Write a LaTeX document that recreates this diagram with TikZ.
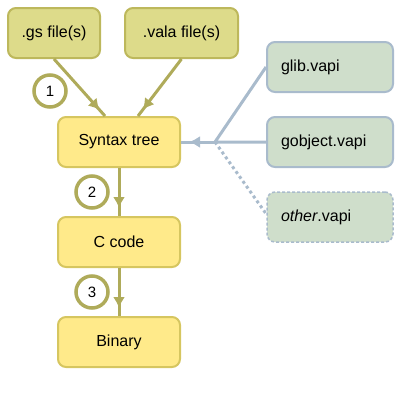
\documentclass[tikz,border=0pt]{standalone}
\usepackage{fontspec}
\setmainfont{Liberation Sans}
\usetikzlibrary{arrows.meta}
\usetikzlibrary{positioning}
\usetikzlibrary{decorations.markings}
\definecolor{srcfill}{HTML}{DDDB8A}
\definecolor{srcline}{HTML}{BDB85C}
\definecolor{stagefill}{HTML}{FFEA8A}
\definecolor{stageline}{HTML}{D6C660}
\definecolor{vapifill}{HTML}{CFDECB}
\definecolor{vapiline}{HTML}{A9BBCC}
\definecolor{flowcol}{HTML}{AFAB5A}
\definecolor{linkcol}{HTML}{A9BBCC}
\tikzstyle{source} = [rectangle, rounded corners=8pt, minimum height=50pt, text centered, draw=srcline, fill=srcfill, line width=2pt]
\tikzstyle{stage} = [rectangle, rounded corners=8pt, minimum width=122pt, minimum height=50pt, text centered, draw=stageline, fill=stagefill, line width=2pt]
\tikzstyle{vapi} = [rectangle, rounded corners=8pt, text width=98pt, inner xsep=14pt, minimum height=50pt, align=left, draw=vapiline, fill=vapifill, line width=2pt]
\tikzstyle{stepnum} = [circle, minimum size=32pt, inner sep=0pt, draw=flowcol, line width=3.5pt, fill=white, font=\fontsize{15}{18}\selectfont]
\tikzstyle{flow} = [line width=3pt, draw=flowcol, postaction={decorate, decoration={markings, mark=at position -8pt with {\arrow{Latex[length=11pt,width=12pt,color=flowcol]}}}}]
\tikzstyle{link} = [line width=3pt, draw=linkcol]
\tikzstyle{linkarrow} = [line width=3pt, draw=linkcol, postaction={decorate, decoration={markings, mark=at position -8pt with {\arrow{Latex[length=11pt,width=12pt,color=linkcol]}}}}]

\begin{document}
\begin{tikzpicture}[node distance=100pt, font=\fontsize{16}{19}\selectfont]

    \useasboundingbox (0,0) rectangle (418pt,-418pt);

    \node (syntax) [stage] at (119pt,-142pt) {Syntax tree};
    \node (ccode) [stage, below of=syntax] {C code};
    \node (binary) [stage, below of=ccode] {Binary};

    \node (gs) [source, minimum width=92pt] at (54pt,-33pt) {.gs file(s)};
    \node (vala) [source, minimum width=113pt] at (181.5pt,-33pt) {.vala file(s)};

    \node (gobject) [vapi, node distance=211pt, right of=syntax] {gobject.vapi};
    \node (glib) [vapi, node distance=75pt, above of=gobject] {glib.vapi};
    \node (other) [vapi, node distance=75pt, below of=gobject, dash pattern=on 3pt off 2pt, line width=1.5pt] {\textit{other}.vapi};

    \node (one) [stepnum] at (50pt,-91pt) {1};
    \node (two) [stepnum] at (92pt,-192pt) {2};
    \node (three) [stepnum] at (92pt,-292pt) {3};

    \coordinate (hub) at (215pt,-142pt);

    \draw [flow] (gs.south) -- ([xshift=-14pt]syntax.north);
    \draw [flow] (vala.south) -- ([xshift=19pt]syntax.north);
    \draw [flow] (syntax) -- (ccode);
    \draw [flow] (ccode) -- (binary);

    \draw [linkarrow] (hub) -- (syntax.east);
    \draw [link] (glib.west) -- (hub) -- (gobject.west);
    \draw [link, dash pattern=on 3pt off 3pt] (hub) -- ([yshift=3pt]other.west);

\end{tikzpicture}
\end{document}
